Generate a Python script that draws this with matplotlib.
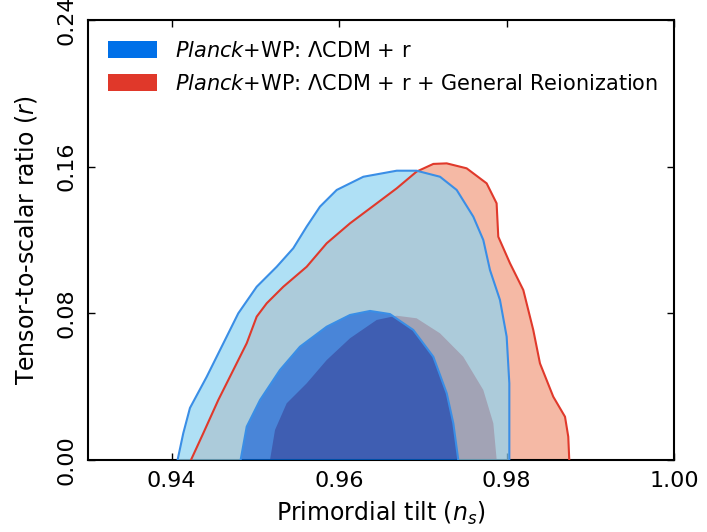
import matplotlib
matplotlib.use("Agg")
import matplotlib.pyplot as plt
from matplotlib.path import Path
from matplotlib.patches import PathPatch, Patch

# contour outlines (n_s, r)
blue_outer_ns = [0.9407, 0.94138, 0.94218, 0.94418, 0.94577, 0.94795, 0.95015, 0.95254,
                 0.95452, 0.95612, 0.95771, 0.95971, 0.96289, 0.96688, 0.96925, 0.97205,
                 0.97404, 0.97603, 0.97722, 0.97802, 0.97921, 0.98001, 0.98033, 0.98033]
blue_outer_r = [0.0, 0.0146, 0.0284, 0.0454, 0.0600, 0.0800, 0.0945, 0.1054,
                0.1155, 0.1273, 0.1382, 0.1473, 0.1545, 0.1578, 0.1578, 0.1545,
                0.1473, 0.1327, 0.1200, 0.1036, 0.0873, 0.0673, 0.0418, 0.0]

blue_inner_ns = [0.94823, 0.94896, 0.95055, 0.95293, 0.95532, 0.95851, 0.9613, 0.96369,
                 0.96607, 0.96886, 0.97125, 0.97285, 0.97364, 0.97423]
blue_inner_r = [0.0, 0.0182, 0.0327, 0.0491, 0.0618, 0.0727, 0.0791, 0.0813,
                0.0796, 0.0709, 0.0563, 0.0364, 0.0200, 0.0]

red_outer_ns = [0.9423, 0.94377, 0.94556, 0.94736, 0.94896, 0.95015, 0.95135, 0.95333,
                0.95612, 0.95851, 0.9613, 0.96449, 0.96688, 0.96925, 0.97125, 0.97285,
                0.97523, 0.97762, 0.97881, 0.97901, 0.98041, 0.982, 0.98319, 0.98399,
                0.98558, 0.98698, 0.98737, 0.98749]
red_outer_r = [0.0, 0.0146, 0.0327, 0.0491, 0.0637, 0.0782, 0.0855, 0.0945,
               0.1054, 0.1182, 0.1291, 0.1400, 0.1482, 0.1573, 0.1615, 0.1618,
               0.1591, 0.1509, 0.1400, 0.1218, 0.1073, 0.0927, 0.0709, 0.0527,
               0.0345, 0.0236, 0.0127, 0.0]

red_inner_ns = [0.95174, 0.95234, 0.95373, 0.95612, 0.95851, 0.9613, 0.96449, 0.96688,
                0.96925, 0.97205, 0.97483, 0.97722, 0.97842, 0.97882]
red_inner_r = [0.0, 0.0164, 0.0309, 0.0418, 0.0545, 0.0664, 0.0764, 0.0787,
               0.0773, 0.0691, 0.0563, 0.0382, 0.0200, 0.0]

labels = [r"$\mathit{Planck}$+WP: ΛCDM + r",
          r"$\mathit{Planck}$+WP: ΛCDM + r + General Reionization"]

x_ticks = [0.94, 0.96, 0.98, 1.00]
y_ticks = [0.00, 0.08, 0.16, 0.24]


def ring_path(xo, yo, xi, yi):
    outer = Path(list(zip(xo, yo)) + [(xo[0], yo[0])], closed=False)
    inner = Path(list(zip(xi[::-1], yi[::-1])) + [(xi[-1], yi[-1])], closed=False)
    return Path.make_compound_path(outer, inner)


def main():
    fig = plt.figure(figsize=(7.07, 5.32), dpi=100)
    ax = fig.add_axes([88 / 707, 72 / 532, 586 / 707, 440 / 532])

    # red model (drawn first, opaque)
    ax.fill(red_outer_ns, red_outer_r, color="#f5b9a5", lw=0, zorder=1)
    ax.fill(red_inner_ns, red_inner_r, color="#d43427", lw=0, zorder=2)

    # blue model, semi-transparent on top
    ring = ring_path(blue_outer_ns, blue_outer_r, blue_inner_ns, blue_inner_r)
    ax.add_patch(PathPatch(ring, facecolor="#8ed3f2", edgecolor="none", alpha=0.7, zorder=3))
    ax.fill(blue_inner_ns, blue_inner_r, color="#0070ee", lw=0, alpha=0.7, zorder=3)

    ax.plot(red_outer_ns, red_outer_r, color="#e0392b", lw=1.5, zorder=4)
    ax.plot(blue_outer_ns, blue_outer_r, color="#3a8ee6", lw=1.5, zorder=5)
    ax.plot(blue_inner_ns, blue_inner_r, color="#3a8ee6", lw=1.5, zorder=5)

    ax.set_xlim(0.93, 1.00)
    ax.set_ylim(0.0, 0.24)
    ax.set_xticks(x_ticks)
    ax.set_yticks(y_ticks)
    ax.set_xticklabels(["%.2f" % v for v in x_ticks])
    ax.set_yticklabels(["%.2f" % v for v in y_ticks], rotation=90, va="center")
    ax.tick_params(direction="in", length=5, width=1, top=True, right=True,
                   labelsize=16, pad=8)
    for s in ax.spines.values():
        s.set_linewidth(1.5)

    ax.set_xlabel(r"Primordial tilt ($n_s$)", fontsize=17, labelpad=6)
    ax.set_ylabel(r"Tensor-to-scalar ratio ($r$)", fontsize=17, labelpad=13)

    handles = [Patch(facecolor="#0070e8", edgecolor="none"),
               Patch(facecolor="#e0382a", edgecolor="none")]
    ax.legend(handles, labels, loc="upper left", bbox_to_anchor=(0.034, 0.952),
              frameon=False, fontsize=15, borderpad=0, borderaxespad=0,
              handlelength=2.35, handleheight=0.87, handletextpad=0.85,
              labelspacing=0.6)

    fig.savefig("out.png", dpi=100)


if __name__ == "__main__":
    main()
